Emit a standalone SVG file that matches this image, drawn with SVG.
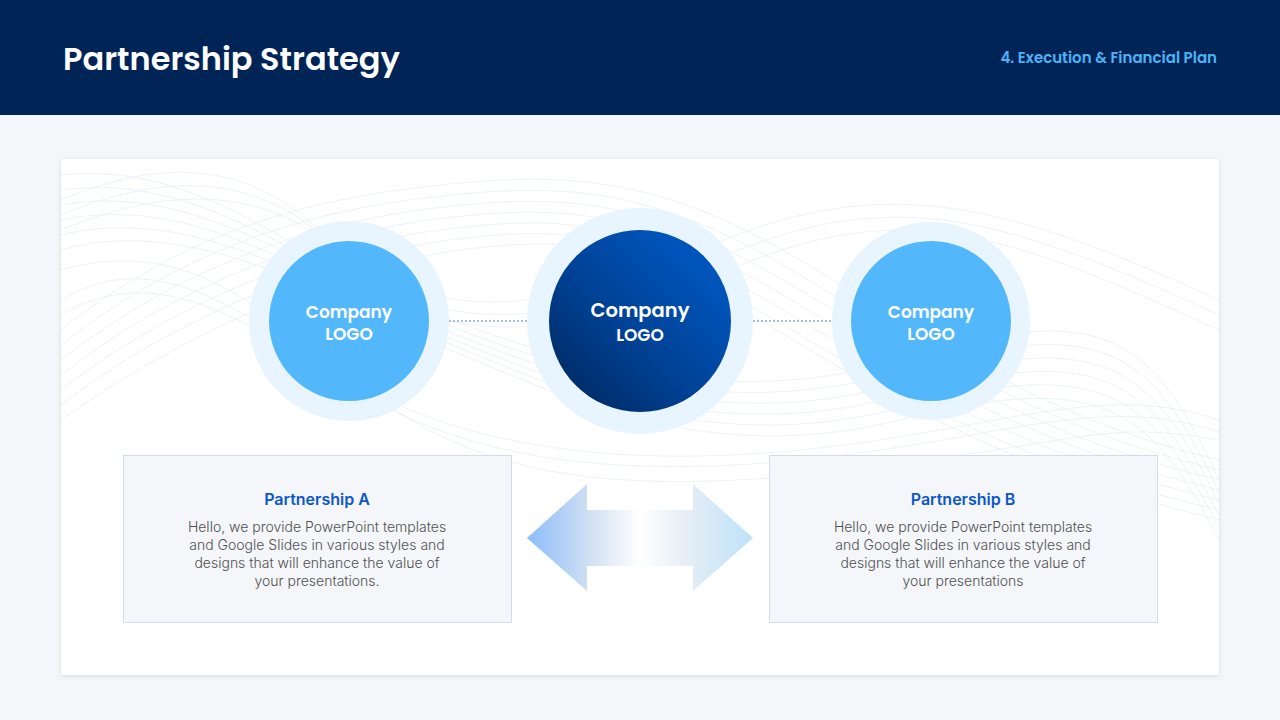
<svg xmlns="http://www.w3.org/2000/svg" width="1280" height="720" viewBox="0 0 1280 720">
<defs>
<style>
.title{font-family:Poppins,"Open Sans","Liberation Sans",sans-serif;font-weight:600;fill:#fff}
.sub{font-family:Poppins,"Open Sans","Liberation Sans",sans-serif;font-weight:600;fill:#4DB3F8;font-size:15px}
.logo{font-family:Poppins,"Open Sans","Liberation Sans",sans-serif;font-weight:600;fill:#fff;text-anchor:middle}
.ring{fill:#E9F5FE}
.lite{fill:#52B8FB}
.box{fill:#F4F6FA;stroke:#D4DAEA;stroke-width:1}
.bt{font-family:Inter,"Liberation Sans",sans-serif;font-weight:600;font-size:16px;fill:#0B57C8;text-anchor:middle}
.bd{font-family:Inter,"Liberation Sans",sans-serif;font-weight:300;font-size:14px;fill:#505050;text-anchor:middle}
.wave{fill:none;stroke:#DDE7EC;stroke-width:0.8;opacity:0.65}
.dot{stroke:#8EAADB;stroke-width:1.5;stroke-dasharray:2 2}
</style>
<linearGradient id="mid" x1="1" y1="0" x2="0" y2="1">
<stop offset="0.2" stop-color="#0054BA"/>
<stop offset="0.55" stop-color="#004296"/>
<stop offset="0.9" stop-color="#002B66"/>
</linearGradient>
<linearGradient id="arr" x1="527" y1="0" x2="753" y2="0" gradientUnits="userSpaceOnUse">
<stop offset="0" stop-color="#8CBCFA"/>
<stop offset="0.3" stop-color="#D6E3F3"/>
<stop offset="0.5" stop-color="#FFFFFF"/>
<stop offset="0.7" stop-color="#E6EEF5"/>
<stop offset="1" stop-color="#BEE2FA"/>
</linearGradient>
<filter id="sh" x="-5%" y="-5%" width="110%" height="110%">
<feDropShadow dx="0" dy="1" stdDeviation="2" flood-color="#000" flood-opacity="0.12"/>
</filter>
<clipPath id="cc"><rect x="61" y="159" width="1158" height="516"/></clipPath>
</defs>
<rect width="1280" height="720" fill="#F4F6FA"/>
<g id="header">
<rect width="1280" height="115" fill="#012456"/>
<text class="title" x="63" y="70" font-size="32">Partnership Strategy</text>
<text class="sub" x="1217" y="63" text-anchor="end">4. Execution &amp; Financial Plan</text>
</g>
<g id="card">
<rect x="61" y="159" width="1158" height="516" fill="#fff" filter="url(#sh)"/>
<g clip-path="url(#cc)">
<g class="wave">
<path d="M61 175 C 200 160, 300 260, 400 300 S 700 420, 900 360 S 1150 330, 1219 480"/>
<path d="M61 190 C 200 170, 310 270, 410 310 S 700 430, 900 372 S 1150 345, 1219 492"/>
<path d="M61 205 C 200 180, 320 280, 420 320 S 700 440, 900 384 S 1150 360, 1219 504"/>
<path d="M61 220 C 200 190, 330 290, 430 330 S 700 450, 900 396 S 1150 375, 1219 516"/>
<path d="M61 235 C 200 200, 340 300, 440 340 S 700 460, 900 408 S 1150 390, 1219 528"/>
<path d="M61 250 C 200 210, 350 310, 450 350 S 700 470, 900 420 S 1150 405, 1219 540"/>
<path d="M61 330 C 150 260, 250 210, 400 190 S 650 170, 800 260 S 1050 420, 1219 460"/>
<path d="M61 345 C 150 275, 260 220, 410 200 S 650 185, 800 275 S 1050 430, 1219 470"/>
<path d="M61 360 C 150 290, 270 230, 420 210 S 650 200, 800 290 S 1050 440, 1219 480"/>
<path d="M61 375 C 150 305, 280 240, 430 220 S 650 215, 800 305 S 1050 450, 1219 490"/>
<path d="M61 390 C 150 320, 290 250, 440 230 S 650 230, 800 320 S 1050 460, 1219 500"/>
<path d="M61 405 C 150 335, 300 260, 450 240 S 650 245, 800 335 S 1050 470, 1219 510"/>
<path d="M61 420 C 160 350, 310 270, 460 250 S 660 260, 810 350 S 1060 480, 1219 520"/>
<path d="M61 300 C 160 240, 250 320, 350 380 S 600 470, 800 450 S 1100 380, 1219 420"/>
<path d="M61 315 C 160 255, 260 330, 360 392 S 600 480, 800 460 S 1100 392, 1219 432"/>
<path d="M61 270 C 200 230, 280 330, 380 400 S 600 500, 850 470 S 1100 420, 1219 440"/>
<path d="M61 200 C 180 150, 260 170, 330 240 S 520 330, 700 250 S 1000 200, 1219 300"/>
<path d="M61 215 C 180 165, 270 180, 340 252 S 530 342, 710 262 S 1000 215, 1219 315"/>
<path d="M61 230 C 180 180, 280 190, 350 264 S 540 354, 720 274 S 1000 230, 1219 330"/>
</g>
</g>
</g>
<g id="connectors">
<line class="dot" x1="449" y1="321" x2="527" y2="321"/>
<line class="dot" x1="753" y1="321" x2="832" y2="321"/>
</g>
<g id="logo-left">
<circle class="ring" cx="349" cy="321" r="100"/>
<circle class="lite" cx="349" cy="321" r="80"/>
<text class="logo" x="349" y="318" font-size="17">Company</text>
<text class="logo" x="349" y="340" font-size="17">LOGO</text>
</g>
<g id="logo-center">
<circle class="ring" cx="640" cy="321" r="113"/>
<circle cx="640" cy="321" r="91" fill="url(#mid)"/>
<text class="logo" x="640" y="317" font-size="19.5">Company</text>
<text class="logo" x="640" y="341" font-size="17">LOGO</text>
</g>
<g id="logo-right">
<circle class="ring" cx="931" cy="321" r="99"/>
<circle class="lite" cx="931" cy="321" r="80"/>
<text class="logo" x="931" y="318" font-size="17">Company</text>
<text class="logo" x="931" y="340" font-size="17">LOGO</text>
</g>
<g id="partnership-a">
<rect class="box" x="123.5" y="455.5" width="388" height="167"/>
<text class="bt" x="317" y="505">Partnership  A</text>
<text class="bd" x="317" y="532">Hello, we provide PowerPoint templates</text>
<text class="bd" x="317" y="550">and Google Slides in various styles and</text>
<text class="bd" x="317" y="568">designs that will enhance the value of</text>
<text class="bd" x="317" y="586">your presentations.</text>
</g>
<g id="partnership-b">
<rect class="box" x="769.5" y="455.5" width="388" height="167"/>
<text class="bt" x="963" y="505">Partnership  B</text>
<text class="bd" x="963" y="532">Hello, we provide PowerPoint templates</text>
<text class="bd" x="963" y="550">and Google Slides in various styles and</text>
<text class="bd" x="963" y="568">designs that will enhance the value of</text>
<text class="bd" x="963" y="586">your presentations</text>
</g>
<g id="double-arrow">
<polygon points="527,538 587,484 587,510 693,510 693,484 753,538 693,591 693,566 587,566 587,591" fill="url(#arr)"/>
</g>
</svg>
